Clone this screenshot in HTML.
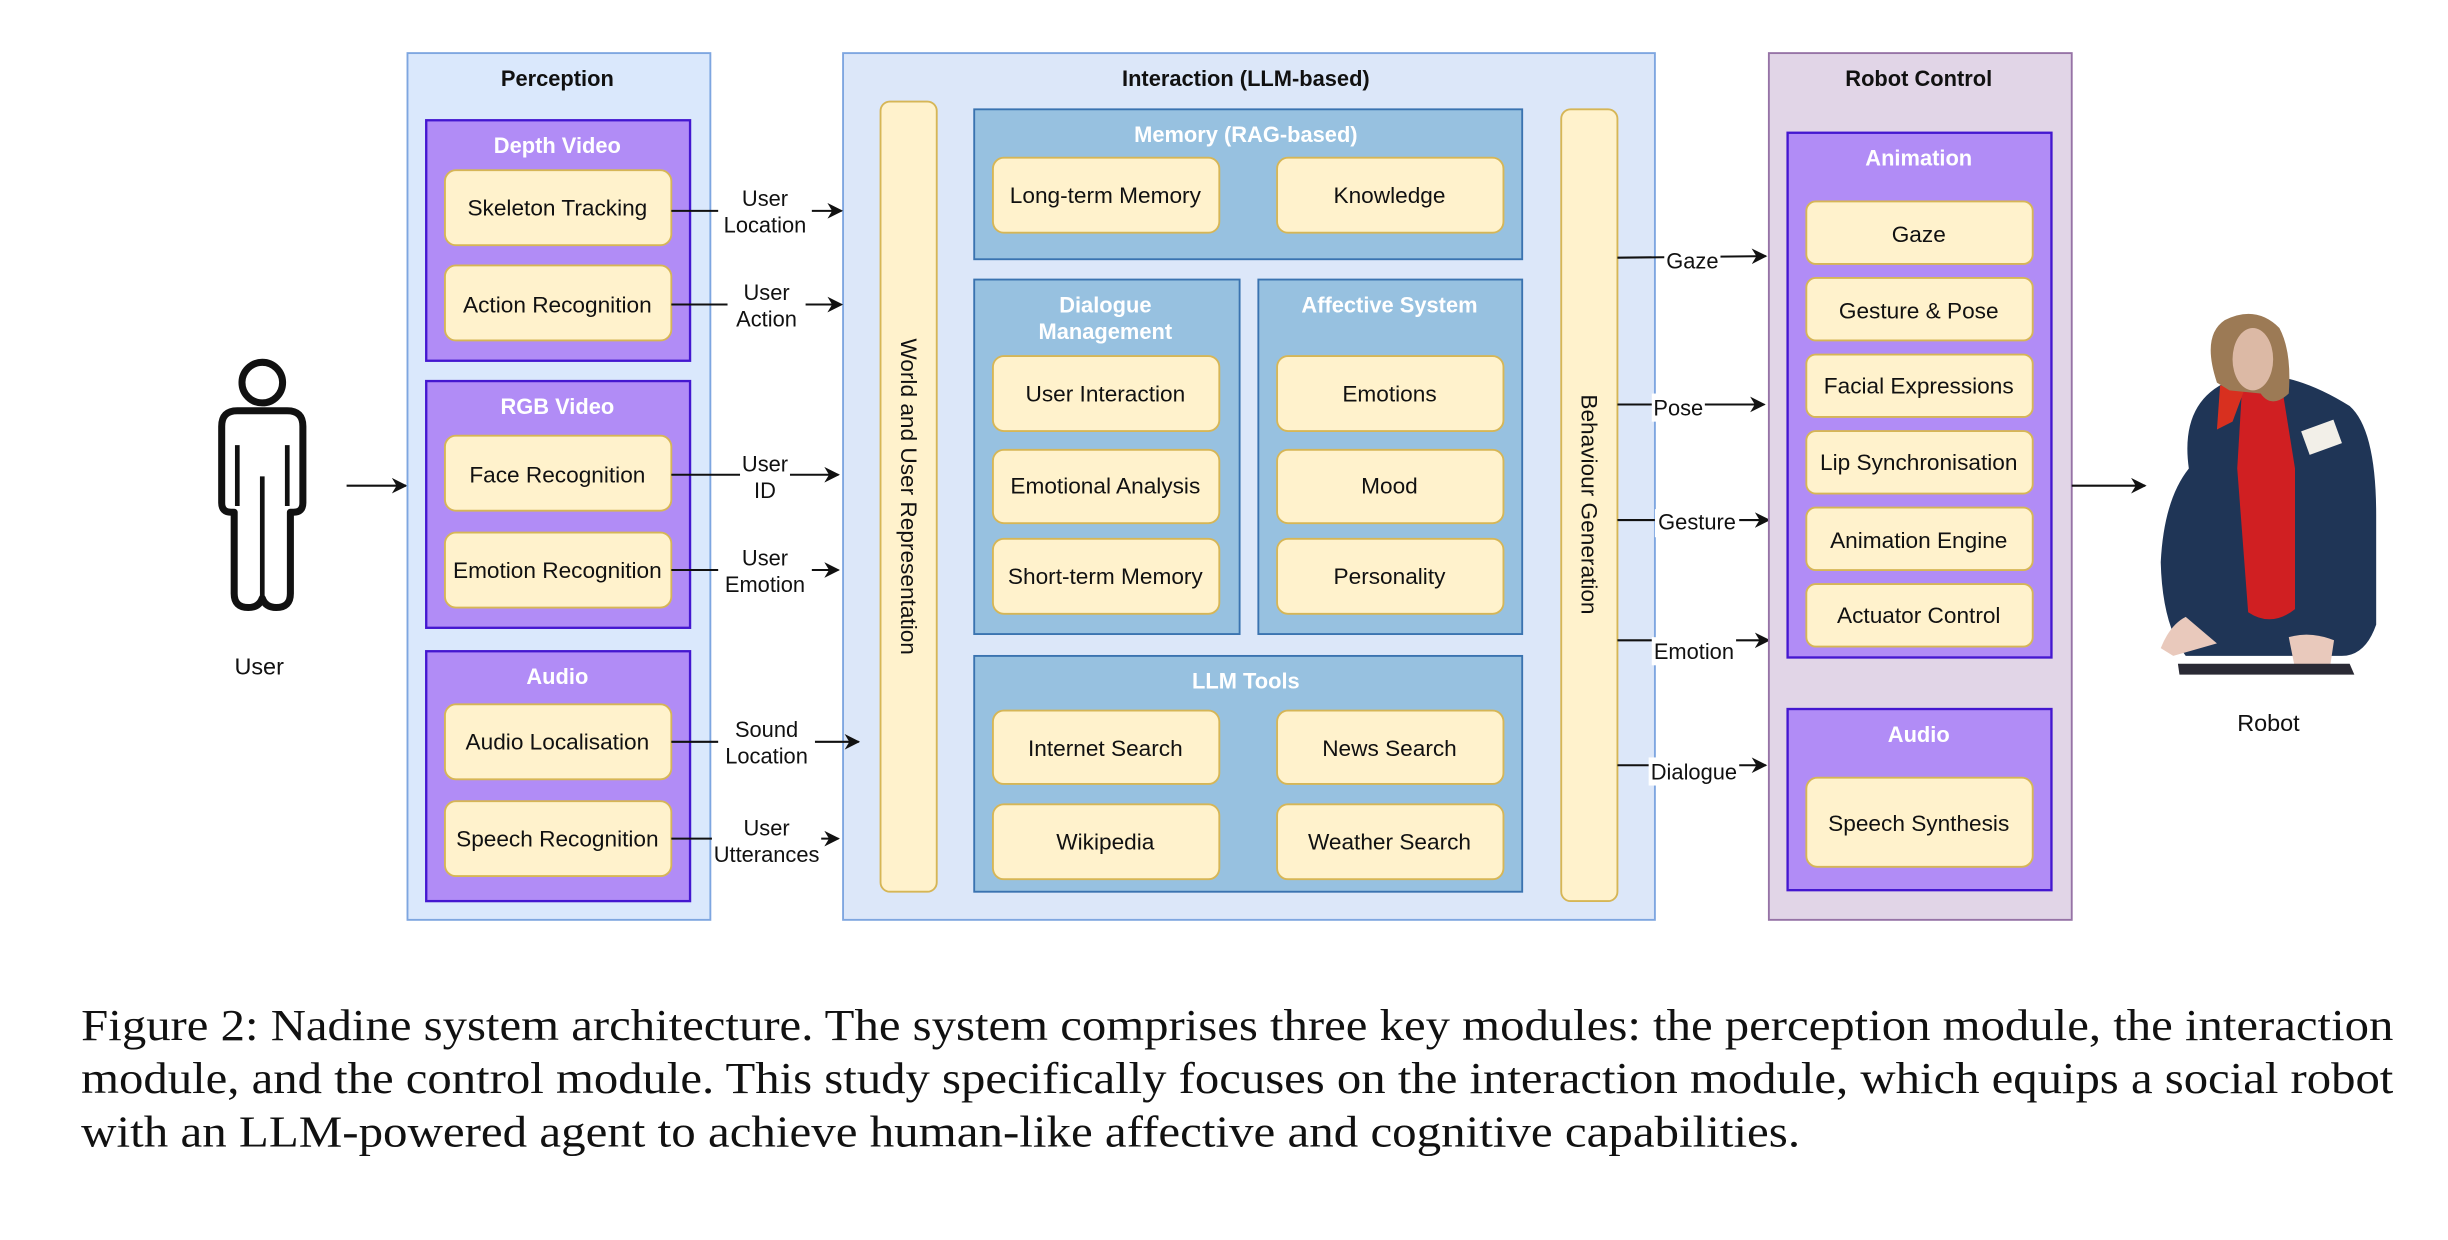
<!DOCTYPE html>
<html><head><meta charset="utf-8"><style>
html,body{margin:0;padding:0;background:#fff;}
svg{display:block;}
text{font-family:"Liberation Sans",Arial,sans-serif;}
.t{font-size:14.5px;fill:#111;text-anchor:middle;}
.h{font-size:14px;font-weight:bold;fill:#fff;text-anchor:middle;}
.hb{font-size:14px;font-weight:bold;fill:#111;text-anchor:middle;}
.l{font-size:14px;fill:#111;text-anchor:middle;}
.y{fill:#fff2cc;stroke:#d6b656;stroke-width:1.2;}
.p{fill:#b18cf6;stroke:#4417d0;stroke-width:1.5;}
.b{fill:#97c1e0;stroke:#3a73b0;stroke-width:1.2;}
.a{stroke:#111;stroke-width:1.3;fill:none;marker-end:url(#ar);}
.cap{font-family:"Liberation Serif","Times New Roman",serif;font-size:28.5px;fill:#111;}
</style></head><body>
<svg width="2448" height="1240" viewBox="0 0 1568 794" preserveAspectRatio="none" xmlns="http://www.w3.org/2000/svg">
<defs><marker id="ar" markerWidth="10" markerHeight="10" refX="9" refY="5" orient="auto" markerUnits="userSpaceOnUse"><path d="M0,0 L10,5 L0,10 L3,5 Z" fill="#111"/></marker></defs>

<!-- User -->
<circle cx="168" cy="245" r="13" fill="none" stroke="#111" stroke-width="4.5"/>
<path d="M152,263 H184 Q194,263 194,273 V322 Q194,328 188,328 H186 V380 Q186,389 177,389 Q170,389 168,383 Q166,389 159,389 Q150,389 150,380 V328 H148 Q142,328 142,322 V273 Q142,263 152,263 Z" fill="none" stroke="#111" stroke-width="4.5" stroke-linejoin="round"/>
<path d="M152,285 V324 M184,285 V324 M168,305 V382" stroke="#111" stroke-width="3"/>
<text class="l" x="166" y="432" style="font-size:15px">User</text>
<line class="a" x1="222" y1="311" x2="260" y2="311"/>

<!-- Perception -->
<rect x="261" y="34" width="194" height="555" fill="#dae8fc" stroke="#7ea6e0" stroke-width="1.2"/>
<text class="hb" x="357" y="55">Perception</text>
<rect class="p" x="273" y="77" width="169" height="154"/>
<text class="h" x="357" y="98">Depth Video</text>
<rect class="y" x="285" y="109" width="145" height="48" rx="7"/><text class="t" x="357" y="138">Skeleton Tracking</text>
<rect class="y" x="285" y="170" width="145" height="48" rx="7"/><text class="t" x="357" y="200">Action Recognition</text>
<rect class="p" x="273" y="244" width="169" height="158"/>
<text class="h" x="357" y="265">RGB Video</text>
<rect class="y" x="285" y="279" width="145" height="48" rx="7"/><text class="t" x="357" y="309">Face Recognition</text>
<rect class="y" x="285" y="341" width="145" height="48" rx="7"/><text class="t" x="357" y="370">Emotion Recognition</text>
<rect class="p" x="273" y="417" width="169" height="160"/>
<text class="h" x="357" y="438">Audio</text>
<rect class="y" x="285" y="451" width="145" height="48" rx="7"/><text class="t" x="357" y="480">Audio Localisation</text>
<rect class="y" x="285" y="513" width="145" height="48" rx="7"/><text class="t" x="357" y="542">Speech Recognition</text>

<!-- Interaction -->
<rect x="540" y="34" width="520" height="555" fill="#dce7f9" stroke="#7ea6e0" stroke-width="1.2"/>
<text class="hb" x="798" y="55">Interaction (LLM-based)</text>
<rect class="y" x="564" y="65" width="36" height="506" rx="6"/>
<text class="t" transform="translate(577,318) rotate(90)">World and User Representation</text>

<rect class="b" x="624" y="70" width="351" height="96"/>
<text class="h" x="798" y="91">Memory (RAG-based)</text>
<rect class="y" x="636" y="101" width="145" height="48" rx="7"/><text class="t" x="708" y="130">Long-term Memory</text>
<rect class="y" x="818" y="101" width="145" height="48" rx="7"/><text class="t" x="890" y="130">Knowledge</text>

<rect class="b" x="624" y="179" width="170" height="227"/>
<text class="h" x="708" y="200">Dialogue</text><text class="h" x="708" y="217">Management</text>
<rect class="y" x="636" y="228" width="145" height="48" rx="7"/><text class="t" x="708" y="257">User Interaction</text>
<rect class="y" x="636" y="288" width="145" height="47" rx="7"/><text class="t" x="708" y="316">Emotional Analysis</text>
<rect class="y" x="636" y="345" width="145" height="48" rx="7"/><text class="t" x="708" y="374">Short-term Memory</text>

<rect class="b" x="806" y="179" width="169" height="227"/>
<text class="h" x="890" y="200">Affective System</text>
<rect class="y" x="818" y="228" width="145" height="48" rx="7"/><text class="t" x="890" y="257">Emotions</text>
<rect class="y" x="818" y="288" width="145" height="47" rx="7"/><text class="t" x="890" y="316">Mood</text>
<rect class="y" x="818" y="345" width="145" height="48" rx="7"/><text class="t" x="890" y="374">Personality</text>

<rect class="b" x="624" y="420" width="351" height="151"/>
<text class="h" x="798" y="441">LLM Tools</text>
<rect class="y" x="636" y="455" width="145" height="47" rx="7"/><text class="t" x="708" y="484">Internet Search</text>
<rect class="y" x="818" y="455" width="145" height="47" rx="7"/><text class="t" x="890" y="484">News Search</text>
<rect class="y" x="636" y="515" width="145" height="48" rx="7"/><text class="t" x="708" y="544">Wikipedia</text>
<rect class="y" x="818" y="515" width="145" height="48" rx="7"/><text class="t" x="890" y="544">Weather Search</text>

<rect class="y" x="1000" y="70" width="36" height="507" rx="6"/>
<text class="t" transform="translate(1013,323) rotate(90)">Behaviour Generation</text>

<!-- perception arrows -->
<line class="a" x1="430" y1="135" x2="539" y2="135"/>
<line class="a" x1="430" y1="195" x2="539" y2="195"/>
<line class="a" x1="430" y1="304" x2="537" y2="304"/>
<line class="a" x1="430" y1="365" x2="537" y2="365"/>
<line class="a" x1="430" y1="475" x2="550" y2="475"/>
<line class="a" x1="430" y1="537" x2="537" y2="537"/>
<g fill="#fff">
<rect x="460" y="118" width="60" height="34"/><rect x="466" y="178" width="50" height="34"/>
<rect x="474" y="288" width="32" height="34"/><rect x="460" y="348" width="60" height="34"/>
<rect x="460" y="458" width="62" height="34"/><rect x="456" y="520" width="70" height="34"/>
</g>
<text class="l" x="490" y="132">User</text><text class="l" x="490" y="149">Location</text>
<text class="l" x="491" y="192">User</text><text class="l" x="491" y="209">Action</text>
<text class="l" x="490" y="302">User</text><text class="l" x="490" y="319">ID</text>
<text class="l" x="490" y="362">User</text><text class="l" x="490" y="379">Emotion</text>
<text class="l" x="491" y="472">Sound</text><text class="l" x="491" y="489">Location</text>
<text class="l" x="491" y="535">User</text><text class="l" x="491" y="552">Utterances</text>

<!-- behaviour arrows -->
<line class="a" x1="1036" y1="165" x2="1131" y2="164"/>
<line class="a" x1="1036" y1="259" x2="1130" y2="259"/>
<line class="a" x1="1036" y1="333" x2="1133" y2="333"/>
<line class="a" x1="1036" y1="410" x2="1133" y2="410"/>
<line class="a" x1="1036" y1="490" x2="1131" y2="490"/>
<g fill="#fff">
<rect x="1066" y="157" width="36" height="18"/><rect x="1058" y="252" width="34" height="18"/>
<rect x="1060" y="326" width="54" height="18"/><rect x="1058" y="408" width="54" height="18"/>
<rect x="1056" y="485" width="58" height="18"/>
</g>
<text class="l" x="1084" y="172">Gaze</text>
<text class="l" x="1075" y="266">Pose</text>
<text class="l" x="1087" y="339">Gesture</text>
<text class="l" x="1085" y="422">Emotion</text>
<text class="l" x="1085" y="499">Dialogue</text>

<!-- Robot control -->
<rect x="1133" y="34" width="194" height="555" fill="#e1d5e7" stroke="#9673a6" stroke-width="1.2"/>
<text class="hb" x="1229" y="55">Robot Control</text>
<rect class="p" x="1145" y="85" width="169" height="336"/>
<text class="h" x="1229" y="106">Animation</text>
<rect class="y" x="1157" y="129" width="145" height="40" rx="6"/><text class="t" x="1229" y="155">Gaze</text>
<rect class="y" x="1157" y="178" width="145" height="40" rx="6"/><text class="t" x="1229" y="204">Gesture &amp; Pose</text>
<rect class="y" x="1157" y="227" width="145" height="40" rx="6"/><text class="t" x="1229" y="252">Facial Expressions</text>
<rect class="y" x="1157" y="276" width="145" height="40" rx="6"/><text class="t" x="1229" y="301">Lip Synchronisation</text>
<rect class="y" x="1157" y="325" width="145" height="40" rx="6"/><text class="t" x="1229" y="351">Animation Engine</text>
<rect class="y" x="1157" y="374" width="145" height="40" rx="6"/><text class="t" x="1229" y="399">Actuator Control</text>
<rect class="p" x="1145" y="454" width="169" height="116"/>
<text class="h" x="1229" y="475">Audio</text>
<rect class="y" x="1157" y="498" width="145" height="57" rx="7"/><text class="t" x="1229" y="532">Speech Synthesis</text>

<line class="a" x1="1327" y1="311" x2="1374" y2="311"/>

<!-- Robot picture -->
<g>
<path d="M1402,300 Q1395,250 1440,240 Q1470,238 1505,260 Q1522,275 1522,330 L1522,400 Q1515,420 1500,420 L1400,420 Q1385,400 1384,360 Q1386,320 1402,300 Z" fill="#1f3556"/>
<path d="M1436,250 L1462,250 L1470,300 L1470,390 Q1455,402 1440,392 L1433,300 Z" fill="#d01f22"/>
<path d="M1422,247 L1440,243 L1430,270 L1420,275 Z" fill="#d8301f"/>
<path d="M1400,395 Q1390,400 1384,415 L1392,420 L1420,412 Z" fill="#e9c9bc"/>
<path d="M1466,408 Q1480,404 1495,410 L1492,430 L1470,428 Z" fill="#e9c9bc"/>
<path d="M1395,425 L1505,425 L1508,432 L1396,432 Z" fill="#2a2a35"/>
<rect x="1476" y="272" width="22" height="16" fill="#f2efe8" transform="rotate(-20 1487 280)"/>
<path d="M1420,245 Q1410,215 1425,205 Q1445,195 1460,210 Q1468,225 1466,252 Q1455,262 1448,252 L1428,250 Z" fill="#9c7a55"/>
<ellipse cx="1443" cy="230" rx="13" ry="20" fill="#dcb9a5"/>
</g>
<text class="l" x="1453" y="468" style="font-size:15px">Robot</text>

<!-- Caption -->
<text class="cap" x="52" y="666" textLength="1481" lengthAdjust="spacingAndGlyphs">Figure 2: Nadine system architecture. The system comprises three key modules: the perception module, the interaction</text>
<text class="cap" x="52" y="700" textLength="1481" lengthAdjust="spacingAndGlyphs">module, and the control module. This study specifically focuses on the interaction module, which equips a social robot</text>
<text class="cap" x="52" y="734" textLength="1101" lengthAdjust="spacingAndGlyphs">with an LLM-powered agent to achieve human-like affective and cognitive capabilities.</text>
</svg>
</body></html>
